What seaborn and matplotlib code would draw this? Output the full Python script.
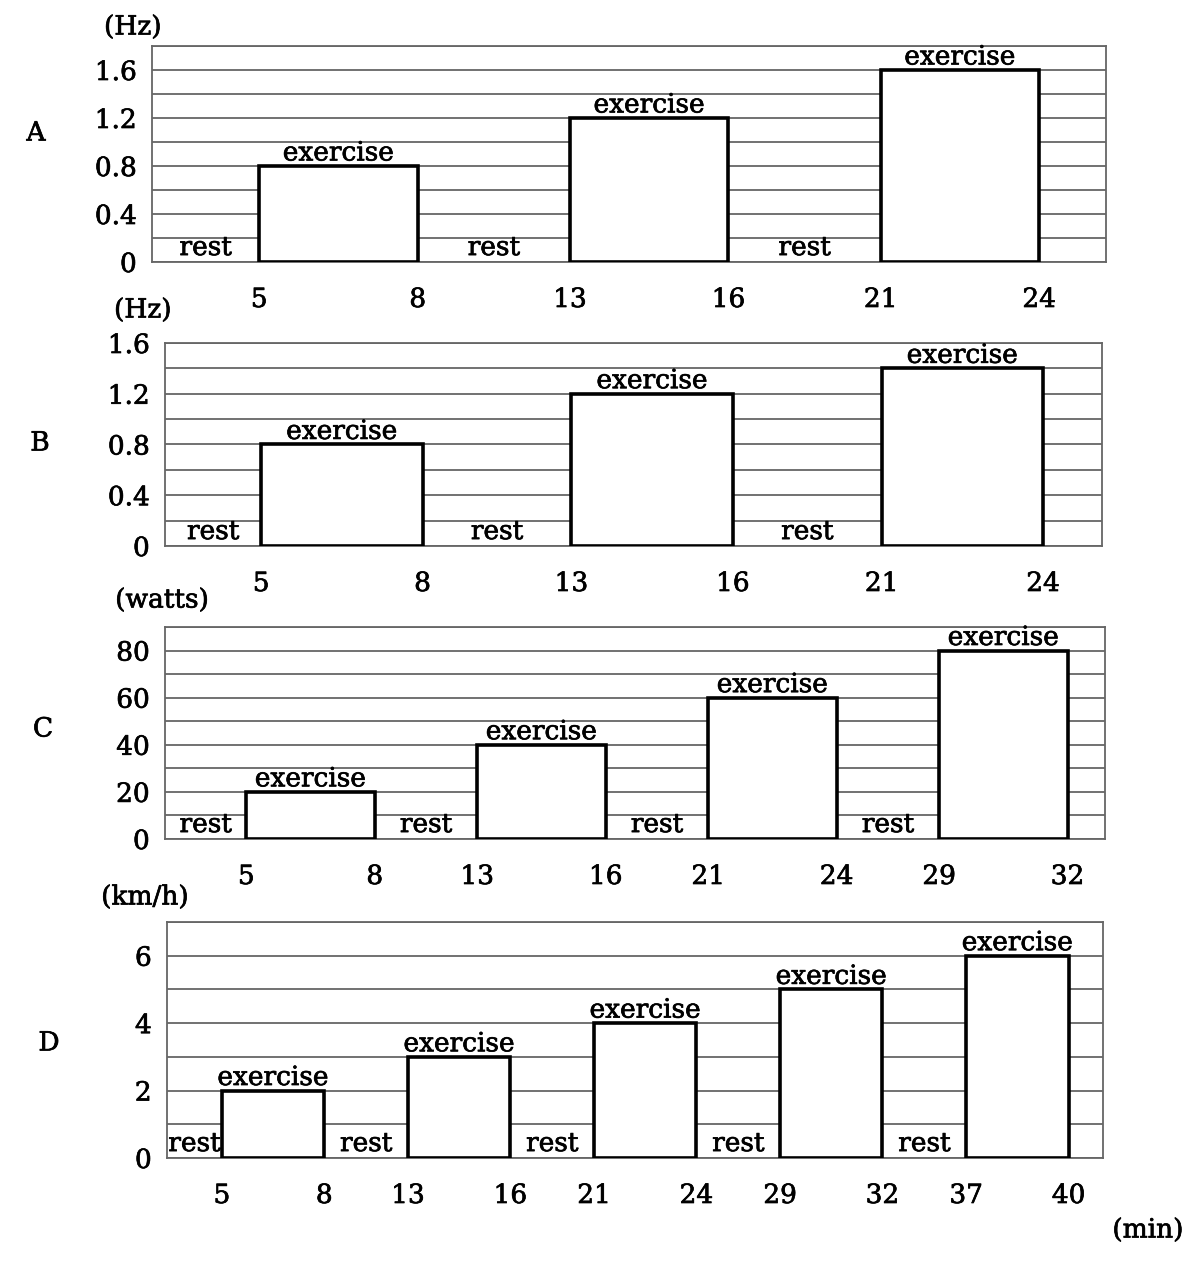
import numpy as np
import pandas as pd
import matplotlib
matplotlib.use("Agg")
import matplotlib.pyplot as plt
import matplotlib.patheffects as pe
from matplotlib.ticker import MultipleLocator, FuncFormatter
import seaborn as sns

# ---------------- data ----------------
A_exercise = [0.8, 1.2, 1.6]
A_times = [5, 8, 13, 16, 21, 24]
B_exercise = [0.8, 1.2, 1.4]
B_times = [5, 8, 13, 16, 21, 24]
C_exercise = [20, 40, 60, 80]
C_times = [5, 8, 13, 16, 21, 24, 29, 32]
D_exercise = [2, 3, 4, 5, 6]
D_times = [5, 8, 13, 16, 21, 24, 29, 32, 37, 40]
panel_letters = ["A", "B", "C", "D"]
units = ["(Hz)", "(Hz)", "(watts)", "(km/h)"]
ex_label = "exercise"
rest_label = "rest"
time_unit = "(min)"

# ---------------- style ----------------
sns.set_theme(style="white")
plt.rcParams["font.family"] = ["DejaVu Serif"]
plt.rcParams["text.color"] = "black"
plt.rcParams["xtick.color"] = "black"
plt.rcParams["ytick.color"] = "black"
FS = 19
STROKE = [pe.withStroke(linewidth=0.5, foreground="black")]
W, H = 1200, 1263
fig = plt.figure(figsize=(W / 100, H / 100), dpi=100)

def fx(px):
    return px / W

def fy(py):
    return 1 - py / H

layouts = [
    dict(box=(152, 1106, 46, 262), w=0.51, xlim=(-0.60, 2.47), ylim=(0, 1.8), major=0.4, minor=0.2,
         letter=(36, 133), unit=(133, 27)),
    dict(box=(165, 1102, 343, 546), w=0.52, xlim=(-0.57, 2.45), ylim=(0, 1.6), major=0.4, minor=0.2,
         letter=(40, 443), unit=(143, 310)),
    dict(box=(165, 1105, 627, 839), w=0.556, xlim=(-0.63, 3.44), ylim=(0, 90), major=20, minor=10,
         letter=(43, 729), unit=(162, 600)),
    dict(box=(167, 1103, 922, 1158), w=0.55, xlim=(-0.57, 4.46), ylim=(0, 7), major=2, minor=1,
         letter=(49, 1043), unit=(145, 897)),
]

datasets = [(A_exercise, A_times), (B_exercise, B_times), (C_exercise, C_times), (D_exercise, D_times)]

grid_col = "#666666"

def txt(obj):
    obj.set_path_effects(STROKE)
    return obj

for k, ((vals, times), lay) in enumerate(zip(datasets, layouts)):
    l, r, t, b = lay["box"]
    ax = fig.add_axes([fx(l), fy(b), fx(r - l), (b - t) / H])
    cats = [f"e{i}" for i in range(len(vals))]
    df = pd.DataFrame({"period": cats, "value": vals})
    w = lay["w"]
    sns.barplot(data=df, x="period", y="value", order=cats, width=w, color="white",
                saturation=1, edgecolor="black", linewidth=2.6, errorbar=None, ax=ax, zorder=3)
    ax.set_xlim(*lay["xlim"])
    ax.set_ylim(*lay["ylim"])
    ax.set_xlabel("")
    ax.set_ylabel("")

    pos = []
    for i in range(len(vals)):
        pos += [i - w / 2, i + w / 2]
    ax.set_xticks(pos)
    ax.set_xticklabels([str(v) for v in times], fontsize=FS)
    ax.tick_params(axis="x", length=0, pad=18)

    ax.yaxis.set_major_locator(MultipleLocator(lay["major"]))
    ax.yaxis.set_minor_locator(MultipleLocator(lay["minor"]))
    ax.yaxis.set_major_formatter(FuncFormatter(lambda v, p: f"{v:g}"))
    ax.tick_params(axis="y", which="both", length=0, labelsize=FS, pad=11)
    ax.yaxis.grid(True, which="both", color=grid_col, linewidth=1.3)
    ax.xaxis.grid(False)
    ax.set_axisbelow(True)
    for s in ax.spines.values():
        s.set_color(grid_col)
        s.set_linewidth(1.3)
        s.set_visible(True)
    for lab in ax.get_xticklabels() + ax.get_yticklabels():
        txt(lab)

    for i, v in enumerate(vals):
        txt(ax.annotate(ex_label, xy=(i, v), xytext=(0, 4), textcoords="offset points",
                        ha="center", va="baseline", fontsize=FS, zorder=4))
    rest_x = [(lay["xlim"][0] + (-w / 2)) / 2] + [i + 0.5 for i in range(len(vals) - 1)]
    for x in rest_x:
        txt(ax.annotate(rest_label, xy=(x, 0), xytext=(0, 5), textcoords="offset points",
                        ha="center", va="baseline", fontsize=FS, zorder=4))

    txt(fig.text(fx(lay["letter"][0]), fy(lay["letter"][1]), panel_letters[k], ha="center", va="center", fontsize=FS))
    txt(fig.text(fx(lay["unit"][0]), fy(lay["unit"][1]), units[k], ha="center", va="center", fontsize=FS))

txt(fig.text(fx(1148), fy(1230), time_unit, ha="center", va="center", fontsize=FS))

fig.savefig("out.png", dpi=100, facecolor="white")
